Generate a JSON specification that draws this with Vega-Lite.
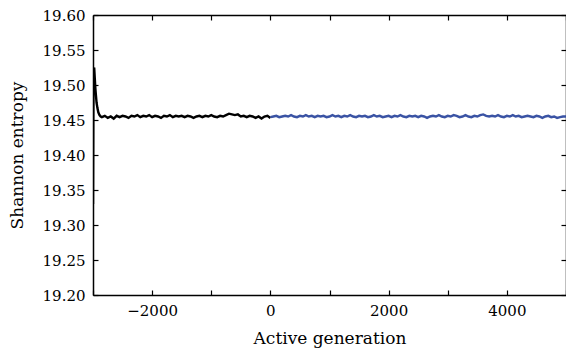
{
  "$schema": "https://vega.github.io/schema/vega-lite/v6.json",
  "width": 473,
  "height": 280,
  "autosize": {"type": "none"},
  "padding": {"left": 93, "top": 15, "right": 0, "bottom": 56},
  "background": "white",
  "config": {
    "view": {"stroke": null},
    "axis": {
      "domainColor": "black",
      "domainWidth": 1.5,
      "tickColor": "black",
      "tickWidth": 1.2,
      "tickSize": -5,
      "grid": false,
      "labelFont": "DejaVu Serif",
      "labelFontSize": 15,
      "labelColor": "black",
      "titleFont": "DejaVu Serif",
      "titleFontSize": 17,
      "titleFontWeight": "normal",
      "titleColor": "black"
    }
  },
  "data": {
    "values": [
      {"g": -3000, "s": 19.33, "series": "burn"},
      {"g": -2995, "s": 19.45, "series": "burn"},
      {"g": -2990, "s": 19.52, "series": "burn"},
      {"g": -2980, "s": 19.525, "series": "burn"},
      {"g": -2970, "s": 19.51, "series": "burn"},
      {"g": -2960, "s": 19.495, "series": "burn"},
      {"g": -2950, "s": 19.485, "series": "burn"},
      {"g": -2940, "s": 19.475, "series": "burn"},
      {"g": -2925, "s": 19.467, "series": "burn"},
      {"g": -2910, "s": 19.461, "series": "burn"},
      {"g": -2890, "s": 19.457, "series": "burn"},
      {"g": -2870, "s": 19.455, "series": "burn"},
      {"g": -2850, "s": 19.454, "series": "burn"},
      {"g": -2800, "s": 19.456, "series": "burn"},
      {"g": -2750, "s": 19.453, "series": "burn"},
      {"g": -2700, "s": 19.455, "series": "burn"},
      {"g": -2650, "s": 19.452, "series": "burn"},
      {"g": -2600, "s": 19.456, "series": "burn"},
      {"g": -2550, "s": 19.454, "series": "burn"},
      {"g": -2500, "s": 19.456, "series": "burn"},
      {"g": -2450, "s": 19.455, "series": "burn"},
      {"g": -2400, "s": 19.453, "series": "burn"},
      {"g": -2350, "s": 19.456, "series": "burn"},
      {"g": -2300, "s": 19.455, "series": "burn"},
      {"g": -2250, "s": 19.457, "series": "burn"},
      {"g": -2200, "s": 19.454, "series": "burn"},
      {"g": -2150, "s": 19.456, "series": "burn"},
      {"g": -2100, "s": 19.455, "series": "burn"},
      {"g": -2050, "s": 19.457, "series": "burn"},
      {"g": -2000, "s": 19.454, "series": "burn"},
      {"g": -1950, "s": 19.456, "series": "burn"},
      {"g": -1900, "s": 19.455, "series": "burn"},
      {"g": -1850, "s": 19.453, "series": "burn"},
      {"g": -1800, "s": 19.456, "series": "burn"},
      {"g": -1750, "s": 19.455, "series": "burn"},
      {"g": -1700, "s": 19.457, "series": "burn"},
      {"g": -1650, "s": 19.454, "series": "burn"},
      {"g": -1600, "s": 19.456, "series": "burn"},
      {"g": -1550, "s": 19.455, "series": "burn"},
      {"g": -1500, "s": 19.456, "series": "burn"},
      {"g": -1450, "s": 19.454, "series": "burn"},
      {"g": -1400, "s": 19.456, "series": "burn"},
      {"g": -1350, "s": 19.455, "series": "burn"},
      {"g": -1300, "s": 19.453, "series": "burn"},
      {"g": -1250, "s": 19.455, "series": "burn"},
      {"g": -1200, "s": 19.456, "series": "burn"},
      {"g": -1150, "s": 19.454, "series": "burn"},
      {"g": -1100, "s": 19.456, "series": "burn"},
      {"g": -1050, "s": 19.455, "series": "burn"},
      {"g": -1000, "s": 19.457, "series": "burn"},
      {"g": -950, "s": 19.455, "series": "burn"},
      {"g": -900, "s": 19.454, "series": "burn"},
      {"g": -850, "s": 19.456, "series": "burn"},
      {"g": -800, "s": 19.455, "series": "burn"},
      {"g": -750, "s": 19.457, "series": "burn"},
      {"g": -700, "s": 19.459, "series": "burn"},
      {"g": -650, "s": 19.458, "series": "burn"},
      {"g": -600, "s": 19.457, "series": "burn"},
      {"g": -550, "s": 19.458, "series": "burn"},
      {"g": -500, "s": 19.455, "series": "burn"},
      {"g": -450, "s": 19.456, "series": "burn"},
      {"g": -400, "s": 19.454, "series": "burn"},
      {"g": -350, "s": 19.456, "series": "burn"},
      {"g": -300, "s": 19.455, "series": "burn"},
      {"g": -250, "s": 19.453, "series": "burn"},
      {"g": -200, "s": 19.455, "series": "burn"},
      {"g": -150, "s": 19.452, "series": "burn"},
      {"g": -100, "s": 19.455, "series": "burn"},
      {"g": -50, "s": 19.456, "series": "burn"},
      {"g": 0, "s": 19.453, "series": "burn"},
      {"g": 0, "s": 19.454, "series": "active"},
      {"g": 50, "s": 19.455, "series": "active"},
      {"g": 100, "s": 19.456, "series": "active"},
      {"g": 150, "s": 19.454, "series": "active"},
      {"g": 200, "s": 19.455, "series": "active"},
      {"g": 250, "s": 19.456, "series": "active"},
      {"g": 300, "s": 19.455, "series": "active"},
      {"g": 350, "s": 19.457, "series": "active"},
      {"g": 400, "s": 19.455, "series": "active"},
      {"g": 450, "s": 19.454, "series": "active"},
      {"g": 500, "s": 19.456, "series": "active"},
      {"g": 550, "s": 19.455, "series": "active"},
      {"g": 600, "s": 19.457, "series": "active"},
      {"g": 650, "s": 19.455, "series": "active"},
      {"g": 700, "s": 19.456, "series": "active"},
      {"g": 750, "s": 19.454, "series": "active"},
      {"g": 800, "s": 19.456, "series": "active"},
      {"g": 850, "s": 19.455, "series": "active"},
      {"g": 900, "s": 19.456, "series": "active"},
      {"g": 950, "s": 19.454, "series": "active"},
      {"g": 1000, "s": 19.455, "series": "active"},
      {"g": 1050, "s": 19.457, "series": "active"},
      {"g": 1100, "s": 19.455, "series": "active"},
      {"g": 1150, "s": 19.456, "series": "active"},
      {"g": 1200, "s": 19.454, "series": "active"},
      {"g": 1250, "s": 19.456, "series": "active"},
      {"g": 1300, "s": 19.455, "series": "active"},
      {"g": 1350, "s": 19.457, "series": "active"},
      {"g": 1400, "s": 19.455, "series": "active"},
      {"g": 1450, "s": 19.454, "series": "active"},
      {"g": 1500, "s": 19.456, "series": "active"},
      {"g": 1550, "s": 19.455, "series": "active"},
      {"g": 1600, "s": 19.456, "series": "active"},
      {"g": 1650, "s": 19.454, "series": "active"},
      {"g": 1700, "s": 19.455, "series": "active"},
      {"g": 1750, "s": 19.457, "series": "active"},
      {"g": 1800, "s": 19.455, "series": "active"},
      {"g": 1850, "s": 19.456, "series": "active"},
      {"g": 1900, "s": 19.454, "series": "active"},
      {"g": 1950, "s": 19.455, "series": "active"},
      {"g": 2000, "s": 19.456, "series": "active"},
      {"g": 2050, "s": 19.454, "series": "active"},
      {"g": 2100, "s": 19.456, "series": "active"},
      {"g": 2150, "s": 19.455, "series": "active"},
      {"g": 2200, "s": 19.457, "series": "active"},
      {"g": 2250, "s": 19.455, "series": "active"},
      {"g": 2300, "s": 19.454, "series": "active"},
      {"g": 2350, "s": 19.456, "series": "active"},
      {"g": 2400, "s": 19.455, "series": "active"},
      {"g": 2450, "s": 19.456, "series": "active"},
      {"g": 2500, "s": 19.454, "series": "active"},
      {"g": 2550, "s": 19.456, "series": "active"},
      {"g": 2600, "s": 19.455, "series": "active"},
      {"g": 2650, "s": 19.453, "series": "active"},
      {"g": 2700, "s": 19.455, "series": "active"},
      {"g": 2750, "s": 19.456, "series": "active"},
      {"g": 2800, "s": 19.455, "series": "active"},
      {"g": 2850, "s": 19.457, "series": "active"},
      {"g": 2900, "s": 19.455, "series": "active"},
      {"g": 2950, "s": 19.454, "series": "active"},
      {"g": 3000, "s": 19.456, "series": "active"},
      {"g": 3050, "s": 19.455, "series": "active"},
      {"g": 3100, "s": 19.457, "series": "active"},
      {"g": 3150, "s": 19.456, "series": "active"},
      {"g": 3200, "s": 19.454, "series": "active"},
      {"g": 3250, "s": 19.455, "series": "active"},
      {"g": 3300, "s": 19.457, "series": "active"},
      {"g": 3350, "s": 19.455, "series": "active"},
      {"g": 3400, "s": 19.454, "series": "active"},
      {"g": 3450, "s": 19.456, "series": "active"},
      {"g": 3500, "s": 19.455, "series": "active"},
      {"g": 3550, "s": 19.457, "series": "active"},
      {"g": 3600, "s": 19.458, "series": "active"},
      {"g": 3650, "s": 19.456, "series": "active"},
      {"g": 3700, "s": 19.455, "series": "active"},
      {"g": 3750, "s": 19.456, "series": "active"},
      {"g": 3800, "s": 19.455, "series": "active"},
      {"g": 3850, "s": 19.457, "series": "active"},
      {"g": 3900, "s": 19.455, "series": "active"},
      {"g": 3950, "s": 19.454, "series": "active"},
      {"g": 4000, "s": 19.456, "series": "active"},
      {"g": 4050, "s": 19.455, "series": "active"},
      {"g": 4100, "s": 19.457, "series": "active"},
      {"g": 4150, "s": 19.455, "series": "active"},
      {"g": 4200, "s": 19.456, "series": "active"},
      {"g": 4250, "s": 19.454, "series": "active"},
      {"g": 4300, "s": 19.455, "series": "active"},
      {"g": 4350, "s": 19.456, "series": "active"},
      {"g": 4400, "s": 19.455, "series": "active"},
      {"g": 4450, "s": 19.454, "series": "active"},
      {"g": 4500, "s": 19.456, "series": "active"},
      {"g": 4550, "s": 19.455, "series": "active"},
      {"g": 4600, "s": 19.453, "series": "active"},
      {"g": 4650, "s": 19.455, "series": "active"},
      {"g": 4700, "s": 19.456, "series": "active"},
      {"g": 4750, "s": 19.454, "series": "active"},
      {"g": 4800, "s": 19.455, "series": "active"},
      {"g": 4850, "s": 19.453, "series": "active"},
      {"g": 4900, "s": 19.454, "series": "active"},
      {"g": 4950, "s": 19.455, "series": "active"},
      {"g": 5000, "s": 19.455, "series": "active"}
    ]
  },
  "layer": [
    {
      "mark": {"type": "line", "strokeWidth": 2.4, "clip": true},
      "encoding": {
        "x": {
          "field": "g", "type": "quantitative",
          "scale": {"domain": [-3000, 5000], "nice": false, "zero": false},
          "axis": {
            "orient": "bottom",
            "title": "Active generation",
            "values": [-3000, -2000, -1000, 0, 1000, 2000, 3000, 4000, 5000],
            "format": "d",
            "labelExpr": "datum.value % 2000 == 0 ? datum.label : ''",
            "labelPadding": 13,
            "titlePadding": 12
          }
        },
        "y": {
          "field": "s", "type": "quantitative",
          "scale": {"domain": [19.2, 19.6], "nice": false, "zero": false},
          "axis": {
            "orient": "left",
            "title": "Shannon entropy",
            "values": [19.2, 19.25, 19.3, 19.35, 19.4, 19.45, 19.5, 19.55, 19.6],
            "format": ".2f",
            "labelPadding": 13,
            "titlePadding": 16
          }
        },
        "color": {
          "field": "series", "type": "nominal",
          "scale": {"domain": ["burn", "active"], "range": ["#000000", "#3a53a4"]},
          "legend": null
        }
      }
    },
    {
      "mark": {"type": "line", "opacity": 0},
      "encoding": {
        "x": {
          "field": "g", "type": "quantitative",
          "axis": {
            "orient": "top",
            "title": null,
            "labels": false,
            "values": [-3000, -2000, -1000, 0, 1000, 2000, 3000, 4000, 5000]
          }
        },
        "y": {
          "field": "s", "type": "quantitative",
          "axis": {
            "orient": "right",
            "title": null,
            "labels": false,
            "values": [19.2, 19.25, 19.3, 19.35, 19.4, 19.45, 19.5, 19.55, 19.6]
          }
        }
      }
    }
  ],
  "resolve": {"axis": {"x": "independent", "y": "independent"}}
}
